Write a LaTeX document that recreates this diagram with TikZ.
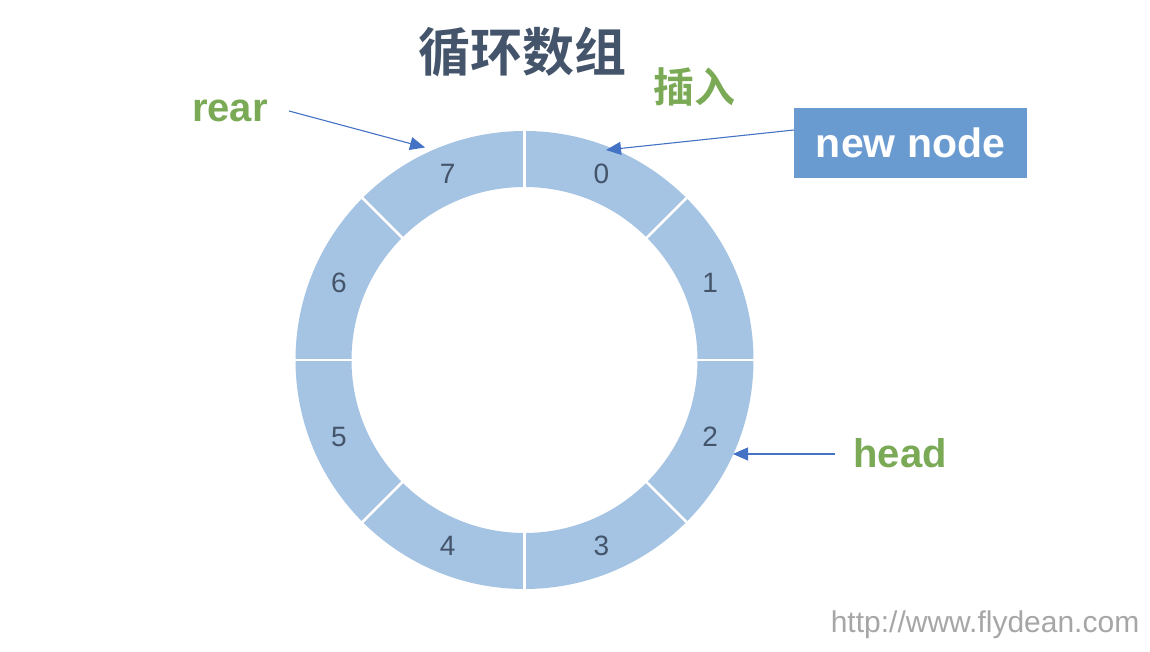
\documentclass[tikz,border=0pt]{standalone}
\usepackage{fontspec}
\setmainfont{Liberation Sans}
\newfontfamily\cjkbold[BoldFont={Noto Sans CJK SC Bold}]{Noto Sans CJK SC}
\usetikzlibrary{arrows.meta}
\definecolor{ringblue}{RGB}{165,195,227}
\definecolor{slate}{RGB}{68,84,106}
\definecolor{leafgreen}{RGB}{122,170,85}
\definecolor{arrowblue}{RGB}{68,114,196}
\definecolor{boxblue}{RGB}{106,155,208}
\definecolor{wmgrey}{RGB}{166,166,166}
\tikzset{
  digit/.style={font=\fontsize{28}{28}\selectfont, text=slate, inner sep=0pt},
  greenlabel/.style={font=\fontsize{40}{40}\selectfont\bfseries, text=leafgreen, inner sep=0pt},
  pointer/.style={draw=arrowblue, line width=1.1pt, -{Triangle[length=15pt,width=13pt]}},
  sep/.style={draw=white, line width=2.5pt},
}
\begin{document}
\begin{tikzpicture}[x=1pt,y=1pt]
\useasboundingbox (0,0) rectangle (1150,652);
% title
\node (title) at (522,600) {\cjkbold\bfseries\fontsize{52}{52}\selectfont\color{slate}循环数组};
\node (insert) at (694,565) {\cjkbold\bfseries\fontsize{41}{41}\selectfont\color{leafgreen}插入};
% ring
\begin{scope}[shift={(524.5,292)}]
  \fill[ringblue, even odd rule] (0,0) circle (229) (0,0) circle (173);
  \foreach \a in {0,45,...,315} \draw[sep] (\a:171) -- (\a:231);
  \foreach \i/\a in {0/67.5,1/22.5,2/-22.5,3/-67.5,4/-112.5,5/-157.5,6/157.5,7/112.5}
    \node[digit] (s\i) at (\a:201) {\i};
\end{scope}
% labels
\node[greenlabel] (rear) at (230,541) {rear};
\node[greenlabel] (head) at (900,198.5) {head};
\node[fill=boxblue, minimum width=233pt, minimum height=70pt, inner sep=0pt,
      text=white, font=\fontsize{41}{41}\selectfont\bfseries] (nn) at (910.5,509) {new node};
\node[font=\fontsize{30}{30}\selectfont, text=wmgrey, inner sep=0pt] (wm) at (985,27) {http://www.flydean.com};
% connectors
\coordinate (rearTail) at (289,541);
\coordinate (rearTip) at (425,504.5);
\coordinate (nnTail) at (794,522);
\coordinate (nnTip) at (606,502);
\coordinate (headTail) at (835,198);
\coordinate (headTip) at (733,198);
\draw[pointer] (rearTail) -- (rearTip);
\draw[pointer] (nnTail) -- (nnTip);
\draw[pointer] (headTail) -- (headTip);
\end{tikzpicture}
\end{document}
